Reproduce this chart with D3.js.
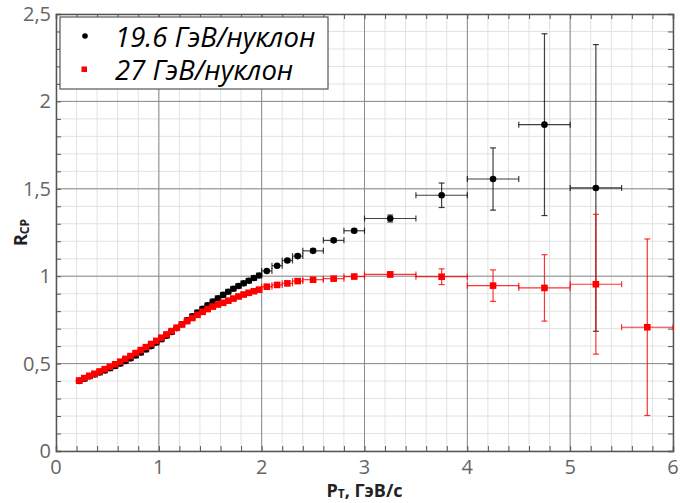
<!DOCTYPE html>
<html><head><meta charset="utf-8">
<script src="https://cdn.jsdelivr.net/npm/d3@7/dist/d3.min.js"></script>
<style>
body{margin:0;background:#fff;}
svg{display:block;}
</style></head>
<body>
<svg id="chart" width="680" height="503"></svg>
<script>
// ---------- DATA ----------
const blackLabel = "19.6 ГэВ/нуклон";
const redLabel = "27 ГэВ/нуклон";

const densePt = [0.225,0.275,0.325,0.375,0.425,0.475,0.525,0.575,0.625,0.675,0.725,0.775,0.825,0.875,0.925,0.975,
  1.025,1.075,1.125,1.175,1.225,1.275,1.325,1.375,1.425,1.475,1.525,1.575,1.625,1.675,1.725,1.775,1.825,1.875,1.925,1.975];
const widePt = [2.05,2.15,2.25,2.35,2.5,2.7,2.9,3.25,3.75,4.25,4.75,5.25];
const wideHalfWidth = [0.05,0.05,0.05,0.05,0.1,0.1,0.1,0.25,0.25,0.25,0.25,0.25];

const blackDense = [0.401,0.414,0.427,0.438,0.449,0.461,0.473,0.486,0.500,0.515,0.530,0.546,0.563,0.581,0.600,0.620,
  0.640,0.660,0.681,0.703,0.725,0.748,0.770,0.792,0.813,0.834,0.855,0.874,0.893,0.911,0.928,0.944,0.959,0.974,0.990,1.004];
const blackWide = [1.03,1.06,1.09,1.115,1.145,1.205,1.26,1.33,1.463,1.556,1.867,1.505];
const blackWideErr = [0.005,0.006,0.008,0.01,0.01,0.01,0.01,0.02,0.07,0.178,0.52,0.82];

const redDense = [0.403,0.417,0.430,0.442,0.455,0.468,0.482,0.496,0.511,0.527,0.543,0.560,0.577,0.594,0.612,0.630,
  0.648,0.667,0.686,0.705,0.724,0.743,0.761,0.779,0.796,0.812,0.826,0.838,0.848,0.860,0.872,0.884,0.895,0.905,0.914,0.923];
const redWidePt = [2.05,2.15,2.25,2.35,2.5,2.7,2.9,3.25,3.75,4.25,4.75,5.25,5.75];
const redWideHalfWidth = [0.05,0.05,0.05,0.05,0.1,0.1,0.1,0.25,0.25,0.25,0.25,0.25,0.25];
const redWide = [0.94,0.95,0.959,0.972,0.98,0.986,0.998,1.01,0.997,0.946,0.933,0.954,0.708];
const redWideErr = [0.005,0.005,0.005,0.006,0.007,0.008,0.008,0.015,0.045,0.09,0.19,0.4,0.505];

const xTickLabels = ["0","1","2","3","4","5","6"];
const yTickValues = [0,0.5,1,1.5,2,2.5];
const yTickLabels = ["0","0,5","1","1,5","2","2,5"];

// ---------- BUILD ----------
function build(dPt, dR, wPt, wHW, wR, wErr){
  const out = [];
  dPt.forEach((p,i)=>out.push({x:p, y:dR[i], xe:0.025, ye:0.003}));
  wPt.forEach((p,i)=>out.push({x:p, y:wR[i], xe:wHW[i], ye:wErr[i]}));
  return out;
}
const black = build(densePt, blackDense, widePt, wideHalfWidth, blackWide, blackWideErr);
const red = build(densePt, redDense, redWidePt, redWideHalfWidth, redWide, redWideErr);

const svg = d3.select("#chart");
const L=56, R=673, T=14, B=451;
const x = d3.scaleLinear().domain([0,6]).range([L,R]);
const y = d3.scaleLinear().domain([0,2.5]).range([B,T]);

// grid
const g = svg.append("g");
g.selectAll(".vmin").data(d3.range(0,6.001,0.2)).enter().append("line")
  .attr("x1",d=>x(d)).attr("x2",d=>x(d)).attr("y1",T).attr("y2",B)
  .attr("stroke","#e2e2e2").attr("stroke-width",1);
g.selectAll(".hmin").data(d3.range(0,2.501,0.1)).enter().append("line")
  .attr("y1",d=>y(d)).attr("y2",d=>y(d)).attr("x1",L).attr("x2",R)
  .attr("stroke","#e2e2e2").attr("stroke-width",1);
g.selectAll(".vmaj").data(d3.range(1,6,1)).enter().append("line")
  .attr("x1",d=>x(d)).attr("x2",d=>x(d)).attr("y1",T).attr("y2",B)
  .attr("stroke","#8a8a8a").attr("stroke-width",1);
g.selectAll(".hmaj").data([0.5,1,1.5,2]).enter().append("line")
  .attr("y1",d=>y(d)).attr("y2",d=>y(d)).attr("x1",L).attr("x2",R)
  .attr("stroke","#8a8a8a").attr("stroke-width",1);

// axes (inward ticks)
const axB = d3.axisBottom(x).tickValues(d3.range(0,6.001,0.2)).tickSize(-5).tickFormat("");
const axT = d3.axisTop(x).tickValues(d3.range(0,6.001,0.2)).tickSize(-5).tickFormat("");
const axLft = d3.axisLeft(y).tickValues(d3.range(0,2.501,0.1)).tickSize(-5).tickFormat("");
const axRt = d3.axisRight(y).tickValues(d3.range(0,2.501,0.1)).tickSize(-5).tickFormat("");
function styleAxis(sel){
  sel.selectAll("path").attr("stroke","#555").attr("stroke-width",1.5);
  sel.selectAll("line").attr("stroke","#555").attr("stroke-width",1);
}
styleAxis(svg.append("g").attr("transform",`translate(0,${B})`).call(axB));
styleAxis(svg.append("g").attr("transform",`translate(0,${T})`).call(axT));
styleAxis(svg.append("g").attr("transform",`translate(${L},0)`).call(axLft));
styleAxis(svg.append("g").attr("transform",`translate(${R},0)`).call(axRt));

// tick labels
const labFont = "'Open Sans', sans-serif";
svg.append("g").selectAll("text").data(xTickLabels).enter().append("text")
  .attr("x",(d,i)=>x(i)).attr("y",B+23).attr("text-anchor","middle")
  .attr("font-family",labFont).attr("font-size",20).attr("fill","#666").text(d=>d);
svg.append("g").selectAll("text").data(yTickValues).enter().append("text")
  .attr("x",L-5).attr("y",d=>y(d)+7).attr("text-anchor","end")
  .attr("font-family",labFont).attr("font-size",20).attr("fill","#666").text((d,i)=>yTickLabels[i]);

// axis titles
const xt = svg.append("text").attr("x",(L+R)/2).attr("y",497).attr("text-anchor","middle")
  .attr("font-family",labFont).attr("font-size",18).attr("font-weight","bold").attr("fill","#222");
xt.append("tspan").text("P");
xt.append("tspan").attr("font-size",12).attr("dy",1).text("T");
xt.append("tspan").attr("dy",-1).text(", ГэВ/с");

const yt = svg.append("text").attr("transform",`translate(27,${(T+B)/2}) rotate(-90)`).attr("text-anchor","middle")
  .attr("font-family",labFont).attr("font-size",18).attr("font-weight","bold").attr("fill","#222");
yt.append("tspan").text("R");
yt.append("tspan").attr("font-size",12).attr("dy",2).text("CP");

// data
const plot = svg.append("g");
function drawErr(data,color,op){
  const eg = plot.append("g").attr("stroke",color).attr("stroke-opacity",op).attr("stroke-width",1.2).attr("fill","none");
  data.forEach(d=>{
    const cx=x(d.x), cy=y(d.y);
    const x1=x(d.x-d.xe), x2=Math.min(x(d.x+d.xe),R);
    eg.append("line").attr("x1",x1).attr("x2",x2).attr("y1",cy).attr("y2",cy);
    eg.append("line").attr("x1",x1).attr("x2",x1).attr("y1",cy-3).attr("y2",cy+3);
    if(x(d.x+d.xe)<=R) eg.append("line").attr("x1",x2).attr("x2",x2).attr("y1",cy-3).attr("y2",cy+3);
    const y1=y(d.y+d.ye), y2=y(d.y-d.ye);
    if(y2-y1>2){
      eg.append("line").attr("x1",cx).attr("x2",cx).attr("y1",y1).attr("y2",y2);
      eg.append("line").attr("x1",cx-3).attr("x2",cx+3).attr("y1",y1).attr("y2",y1);
      eg.append("line").attr("x1",cx-3).attr("x2",cx+3).attr("y1",y2).attr("y2",y2);
    }
  });
}
drawErr(black,"#000",0.75);
drawErr(red,"#ff0000",0.8);
plot.append("g").selectAll("circle").data(black).enter().append("circle")
  .attr("cx",d=>x(d.x)).attr("cy",d=>y(d.y)).attr("r",3.3).attr("fill","#000");
plot.append("g").selectAll("rect").data(red).enter().append("rect")
  .attr("x",d=>x(d.x)-3.3).attr("y",d=>y(d.y)-3.3).attr("width",6.6).attr("height",6.6).attr("fill","#ff0000");

// legend
const lg = svg.append("g");
lg.append("rect").attr("x",60).attr("y",17).attr("width",268).attr("height",72)
  .attr("fill","#fff").attr("stroke","#555").attr("stroke-width",1.2);
lg.append("circle").attr("cx",85).attr("cy",36).attr("r",2.8).attr("fill","#000");
lg.append("rect").attr("x",81.5).attr("y",66.5).attr("width",5.5).attr("height",5.5).attr("fill","#ff0000");
lg.append("text").attr("x",115).attr("y",47).attr("font-family",labFont).attr("font-style","italic")
  .attr("font-size",27.5).attr("fill","#000").text(blackLabel);
lg.append("text").attr("x",115).attr("y",80).attr("font-family",labFont).attr("font-style","italic")
  .attr("font-size",27.5).attr("fill","#000").text(redLabel);
</script>
</body></html>
